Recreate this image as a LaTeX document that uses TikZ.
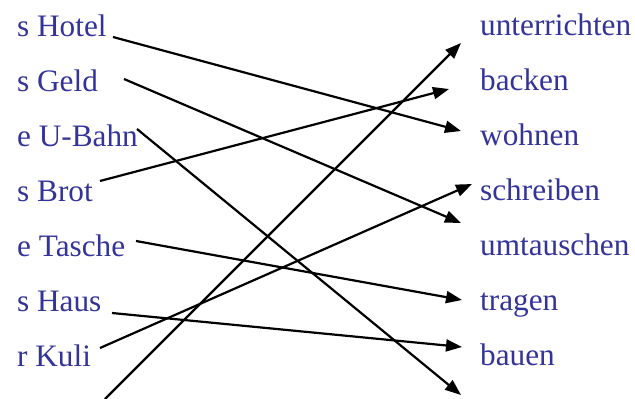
\documentclass[tikz,border=0pt]{standalone}
\usepackage{fontspec}
\setmainfont{Liberation Serif}
\usetikzlibrary{arrows.meta}
\definecolor{wordblue}{RGB}{51,51,153}
\begin{document}
\begin{tikzpicture}[x=1pt,y=-1pt,
  word/.style={anchor=base west,inner sep=0pt,text=wordblue,font=\fontsize{31.25}{36}\selectfont},
  link/.style={line width=2.2pt,black,-{Triangle[length=16pt,width=12pt]}}]
\useasboundingbox (0,0) rectangle (635,399);
% left words
\node[word] (hotel) at (17,36) {s Hotel};
\node[word] (geld) at (17,91) {s Geld};
\node[word] (ubahn) at (17,146) {e U-Bahn};
\node[word] (brot) at (17,201) {s Brot};
\node[word] (tasche) at (17,256) {e Tasche};
\node[word] (haus) at (17,311) {s Haus};
\node[word] (kuli) at (17,366) {r Kuli};
% right words
\node[word] (unterrichten) at (480,35.5) {unterrichten};
\node[word] (backen) at (480,90.5) {backen};
\node[word] (wohnen) at (480,145.5) {wohnen};
\node[word] (schreiben) at (480,200.5) {schreiben};
\node[word] (umtauschen) at (480,255.5) {umtauschen};
\node[word] (tragen) at (480,310.5) {tragen};
\node[word] (bauen) at (480,365.5) {bauen};
% connector ends
\coordinate (hotelS) at (113,37);
\coordinate (geldS) at (124,79);
\coordinate (ubahnS) at (137,129);
\coordinate (brotS) at (100,181);
\coordinate (tascheS) at (136,241);
\coordinate (hausS) at (112,313);
\coordinate (kuliS) at (100,348);
\coordinate (bottomS) at (105,399);
\coordinate (unterrichtenE) at (461,43);
\coordinate (backenE) at (449,89);
\coordinate (wohnenE) at (461,131);
\coordinate (schreibenE) at (472,184);
\coordinate (umtauschenE) at (461,223);
\coordinate (tragenE) at (462,300);
\coordinate (bauenE) at (462,347);
\coordinate (bottomE) at (461,395);
% connectors
\draw[link] (hotelS) -- (wohnenE);
\draw[link] (geldS) -- (umtauschenE);
\draw[link] (ubahnS) -- (bottomE);
\draw[link] (brotS) -- (backenE);
\draw[link] (tascheS) -- (tragenE);
\draw[link] (hausS) -- (bauenE);
\draw[link] (kuliS) -- (schreibenE);
\draw[link] (bottomS) -- (unterrichtenE);
\end{tikzpicture}
\end{document}
